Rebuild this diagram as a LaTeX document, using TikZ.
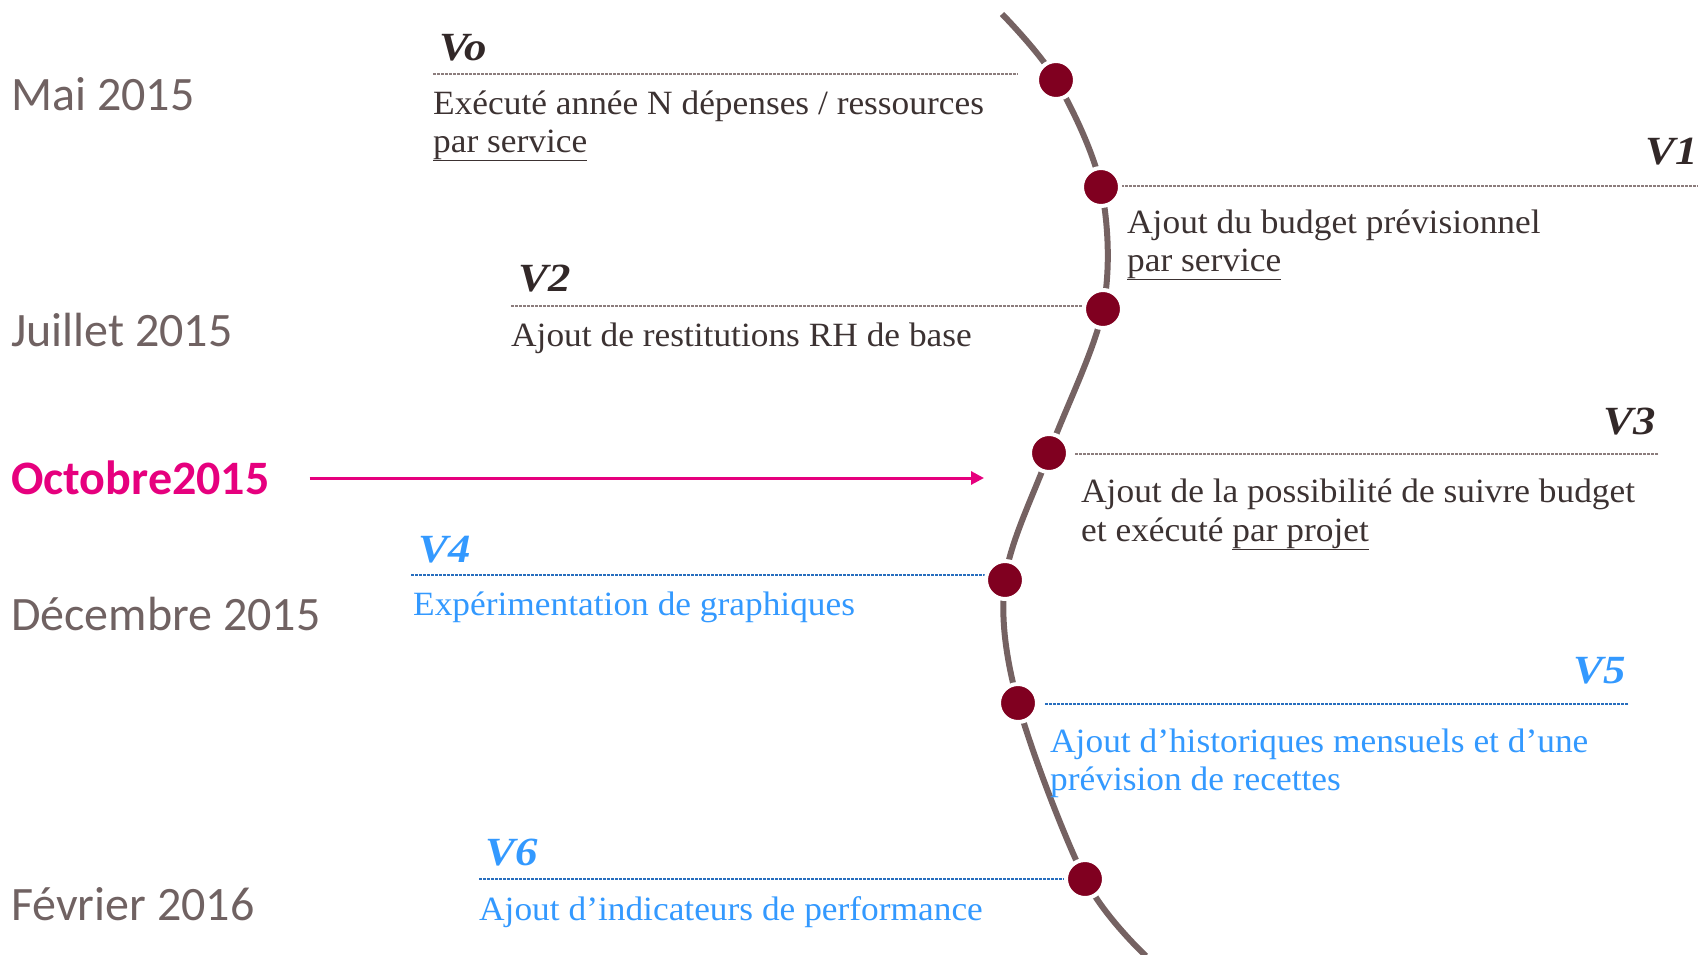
\documentclass[tikz,border=0pt]{standalone}
\usepackage{fontspec}
\setmainfont{Liberation Serif}[FakeStretch=1.04]
\newfontfamily\vfont{Liberation Serif}[FakeStretch=1.12]
\newfontfamily\datefont{Carlito}
\usetikzlibrary{arrows.meta}

\definecolor{dategray}{RGB}{112,98,98}
\definecolor{textdark}{RGB}{60,50,50}
\definecolor{labeldark}{RGB}{50,40,40}
\definecolor{skyblue}{RGB}{51,153,255}
\definecolor{lineblue}{RGB}{40,110,190}
\definecolor{linegray}{RGB}{140,125,125}
\definecolor{magenta}{RGB}{230,0,126}
\definecolor{dotred}{RGB}{128,0,32}
\definecolor{curvegray}{RGB}{117,98,98}

\tikzset{
  datelabel/.style={anchor=base west, inner sep=0, text=dategray,
    font=\datefont\fontsize{48}{56}\selectfont},
  vlabel/.style={inner sep=0, text=labeldark,
    font=\vfont\bfseries\itshape\fontsize{40}{46}\selectfont},
  vtext/.style={anchor=base west, inner sep=0, text=textdark,
    font=\fontsize{34}{40}\selectfont},
  bluetext/.style={text=skyblue},
  sepline/.style={draw=linegray, line width=1.3, dash pattern=on 2.5pt off 1.5pt},
  blueline/.style={sepline, draw=lineblue},
  curve/.style={draw=curvegray, line width=6},
  dot/.style={circle, fill=dotred, draw=white, line width=4, minimum size=38, inner sep=0},
}

\begin{document}
\begin{tikzpicture}[x=1pt,y=-1pt]
\useasboundingbox (0,0) rectangle (1698,954);

% timeline points
\coordinate (top) at (1002,14);
\coordinate (p0) at (1056,80);
\coordinate (p1) at (1101,187);
\coordinate (p2) at (1103,309);
\coordinate (p3) at (1049,453);
\coordinate (p4) at (1005,580);
\coordinate (p5) at (1018,703);
\coordinate (p6) at (1085,879);
\coordinate (bottom) at (1146,956);

\draw[curve] plot[smooth, tension=0.55] coordinates {(top) (p0) (p1) (p2) (p3) (p4) (p5) (p6) (bottom)};

% dates
\node[datelabel] (mai) at (11,110) {Mai 2015};
\node[datelabel] (juil) at (11,346) {Juillet 2015};
\node[datelabel, text=magenta, font=\datefont\bfseries\fontsize{48}{56}\selectfont] (oct) at (11,494) {Octobre2015};
\node[datelabel] (dec) at (11,630) {Décembre 2015};
\node[datelabel] (fev) at (11,920) {Février 2016};

\coordinate (arrowend) at (984,478);
\draw[magenta, line width=3, -{Triangle[length=13,width=13]}] (oct.east |- 0,478) ++(40,0) coordinate (arrowstart) -- (arrowend);

% V0
\node[vlabel, anchor=base west] (v0) at (439,60) {Vo};
\coordinate (l0a) at (433,74); \coordinate (l0b) at (1018,74);
\draw[sepline] (l0a) -- (l0b);
\node[vtext] (t0a) at (433,114) {Exécuté année N dépenses / ressources};
\node[vtext] (t0b) at (433,152) {\underline{par service}};

% V1
\node[vlabel, anchor=base east] (v1) at (1698,164) {V1};
\coordinate (l1a) at (1121,186); \coordinate (l1b) at (1698,186);
\draw[sepline] (l1a) -- (l1b);
\node[vtext] (t1a) at (1127,233) {Ajout du budget prévisionnel};
\node[vtext] (t1b) at (1127,271) {\underline{par service}};

% V2
\node[vlabel, anchor=base west] (v2) at (518,291) {V2};
\coordinate (l2a) at (511,306); \coordinate (l2b) at (1092,306);
\draw[sepline] (l2a) -- (l2b);
\node[vtext] (t2a) at (511,346) {Ajout de restitutions RH de base};

% V3
\node[vlabel, anchor=base east] (v3) at (1656,434) {V3};
\coordinate (l3a) at (1075,454); \coordinate (l3b) at (1659,454);
\draw[sepline] (l3a) -- (l3b);
\node[vtext] (t3a) at (1081,502) {Ajout de la possibilité de suivre budget};
\node[vtext] (t3b) at (1081,541) {et exécuté \underline{par projet}};

% V4
\node[vlabel, anchor=base west, text=skyblue] (v4) at (418,562) {V4};
\coordinate (l4a) at (411,575); \coordinate (l4b) at (995,575);
\draw[blueline] (l4a) -- (l4b);
\node[vtext, bluetext] (t4a) at (413,615) {Expérimentation de graphiques};

% V5
\node[vlabel, anchor=base east, text=skyblue] (v5) at (1626,683) {V5};
\coordinate (l5a) at (1045,704); \coordinate (l5b) at (1628,704);
\draw[blueline] (l5a) -- (l5b);
\node[vtext, bluetext] (t5a) at (1050,752) {Ajout d’historiques mensuels et d’une};
\node[vtext, bluetext] (t5b) at (1050,790) {prévision de recettes};

% V6
\node[vlabel, anchor=base west, text=skyblue] (v6) at (485,865) {V6};
\coordinate (l6a) at (479,879); \coordinate (l6b) at (1066,879);
\draw[blueline] (l6a) -- (l6b);
\node[vtext, bluetext] (t6a) at (479,920) {Ajout d’indicateurs de performance};

% milestones
\foreach \i in {0,...,6} { \node[dot] (d\i) at (p\i) {}; }
\end{tikzpicture}
\end{document}
